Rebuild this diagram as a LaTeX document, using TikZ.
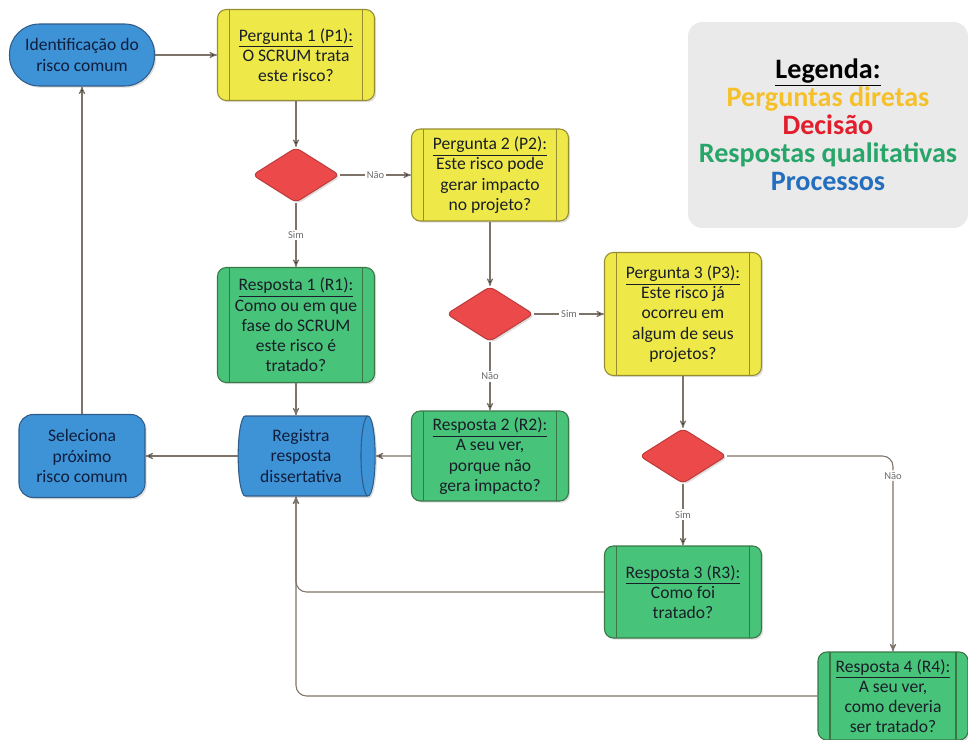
\documentclass[tikz,border=0pt]{standalone}
\usepackage{fontspec}
\setmainfont{Carlito}
\usetikzlibrary{shapes.geometric}
\usetikzlibrary{shadows}
\usetikzlibrary{arrows}

\begin{document}
\begin{tikzpicture}[x=0.02cm,y=-0.02cm,>=stealth',
	conn/.style={draw=linec,line width=0.6pt},
	lbl/.style={font=\fontsize{6}{7}\selectfont,text=labelc,fill=white,inner sep=1pt},
	shade box/.style={drop shadow={opacity=0.25,shadow xshift=1pt,shadow yshift=-1pt}},
	sidebars/.style={path picture={
		\draw[#1,line width=0.6pt,-] ([xshift=0.24cm]path picture bounding box.north west) -- ([xshift=0.24cm]path picture bounding box.south west);
		\draw[#1,line width=0.6pt,-] ([xshift=-0.24cm]path picture bounding box.north east) -- ([xshift=-0.24cm]path picture bounding box.south east);}},
	main box/.style={rectangle,rounded corners=5pt,line width=0.6pt,align=center,
		text=textc,font=\fontsize{10}{11.5}\selectfont,minimum width=3.14cm,shade box},
	question/.style={main box,fill=yellowbox,draw=yellowline,sidebars=yellowline},
	answer/.style={main box,fill=greenbox,draw=greenline,sidebars=greenline},
	decision/.style={diamond,fill=redbox,draw=redline,line width=0.6pt,inner sep=0pt,
		minimum width=1.74cm,minimum height=1.1cm,rounded corners=3pt,shade box},
	process/.style={rectangle,fill=bluebox,draw=blueline,line width=0.6pt,align=center,
		text=navy,font=\fontsize{10}{11.5}\selectfont,shade box}]
	
	\definecolor{yellowbox}{RGB}{238,233,72}
	\definecolor{yellowline}{RGB}{150,140,50}
	\definecolor{greenbox}{RGB}{72,196,122}
	\definecolor{greenline}{RGB}{58,118,72}
	\definecolor{redbox}{RGB}{236,74,74}
	\definecolor{redline}{RGB}{190,60,60}
	\definecolor{bluebox}{RGB}{62,146,214}
	\definecolor{blueline}{RGB}{48,92,138}
	\definecolor{linec}{RGB}{125,115,105}
	\definecolor{labelc}{RGB}{110,110,110}
	\definecolor{textc}{RGB}{25,30,40}
	\definecolor{navy}{RGB}{15,30,60}
	\definecolor{legendgray}{RGB}{234,234,234}
	\definecolor{legyellow}{RGB}{245,192,40}
	\definecolor{legred}{RGB}{226,30,45}
	\definecolor{leggreen}{RGB}{40,165,105}
	\definecolor{legblue}{RGB}{35,110,190}
	
	\useasboundingbox (0,0) rectangle (968,740);
	
	% caixas
	\node[process,rounded corners=17pt,minimum width=2.9cm,minimum height=1.24cm] (ident) at (82,55) {Identificação do\\risco comum};
	\node[question,minimum height=1.82cm] (p1) at (296,55) {\underline{Pergunta 1 (P1):}\\O SCRUM trata\\este risco?};
	\node[decision] (d1) at (296,175) {};
	\node[question,minimum height=1.84cm] (p2) at (490,175) {\underline{Pergunta 2 (P2):}\\Este risco pode\\gerar impacto\\no projeto?};
	\node[answer,minimum height=2.3cm] (r1) at (296,325) {\underline{Resposta 1 (R1):}\\Como ou em que\\fase do SCRUM\\este risco é\\tratado?};
	\node[decision] (d2) at (490,314) {};
	\node[question,minimum height=2.46cm] (p3) at (683,314) {\underline{Pergunta 3 (P3):}\\Este risco já\\ocorreu em\\algum de seus\\projetos?};
	\node[answer,minimum height=1.8cm] (r2) at (490,456) {\underline{Resposta 2 (R2):}\\A seu ver,\\porque não\\gera impacto?};
	\node[process,cylinder,aspect=0.22,minimum width=1.6cm,minimum height=2.74cm] (reg) at (301,456) {Registra\\resposta\\dissertativa};
	\node[process,rounded corners=8pt,minimum width=2.52cm,minimum height=1.66cm] (sel) at (82,456) {Seleciona\\próximo\\risco comum};
	\node[decision] (d3) at (683,456) {};
	\node[answer,minimum height=1.84cm] (r3) at (683,592) {\underline{Resposta 3 (R3):}\\Como foi\\tratado?};
	\node[answer,minimum width=3.0cm,minimum height=1.76cm] (r4) at (893,696) {\underline{Resposta 4 (R4):}\\A seu ver,\\como deveria\\ser tratado?};
	
	% legenda
	\node[rectangle,rounded corners=8pt,fill=legendgray,minimum width=5.6cm,minimum height=4.12cm,
		align=center,font=\bfseries\fontsize{16}{16}\selectfont] (leg) at (828,125)
		{\underline{Legenda:}\\\textcolor{legyellow}{Perguntas diretas}\\\textcolor{legred}{Decisão}\\
		\textcolor{leggreen}{Respostas qualitativas}\\\textcolor{legblue}{Processos}};
	
	% ligacoes
	\path[conn,->]
	(ident) edge (p1)
	(p1) edge (d1)
	(d1) edge node[lbl] {Não} (p2)
	(d1) edge node[lbl] {Sim} (r1)
	(p2) edge (d2)
	(d2) edge node[lbl] {Sim} (p3)
	(d2) edge node[lbl] {Não} (r2)
	(p3) edge (d3)
	(d3) edge node[lbl] {Sim} (r3)
	(r2) edge (reg)
	(reg) edge (sel)
	(sel) edge (ident);
	\draw[conn,->] (r1.south) -- (r1.south |- reg.north);
	\draw[conn,->,rounded corners=6pt] (d3.east) -| node[lbl,pos=0.55] {Não} (r4.north);
	\draw[conn,->,rounded corners=6pt] (r3.west) -| (r1.south |- reg.south);
	\draw[conn,->,rounded corners=6pt] (r4.west) -| (r1.south |- reg.south);
\end{tikzpicture}
\end{document}
